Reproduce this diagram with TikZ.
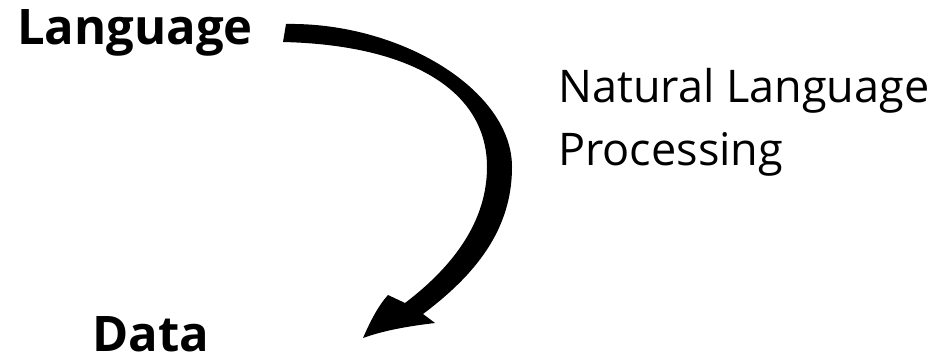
\documentclass[tikz,border=0pt]{standalone}
\usepackage{fontspec}
\setmainfont{Open Sans}
\begin{document}
\begin{tikzpicture}[x=1pt,y=-1pt,
  boldlabel/.style={inner sep=0pt,anchor=base west,font=\fontsize{49}{55}\selectfont\bfseries},
  plainlabel/.style={inner sep=0pt,anchor=base west,align=left,font=\fontsize{45}{63}\selectfont}]
\useasboundingbox[fill=white] (0,0) rectangle (944,356);
\node[boldlabel] (lang) at (17,44) {Language};
\node[boldlabel,text depth=0pt] (data) at (92,351) {Data};
\node[plainlabel] (nlp) at (558,165) {Natural Language\\Processing};
\fill[black] (283,42) -- (286,24)
  .. controls (400,22) and (512,90) .. (512,167)
  .. controls (512,230) and (475,275) .. (423,314)
  -- (435,323)
  .. controls (410,326) and (385,330) .. (363,338)
  .. controls (370,322) and (378,306) .. (388,295)
  -- (405,303)
  .. controls (455,265) and (487,220) .. (487,167)
  .. controls (487,90) and (410,45) .. (283,42) -- cycle;
\end{tikzpicture}
\end{document}
